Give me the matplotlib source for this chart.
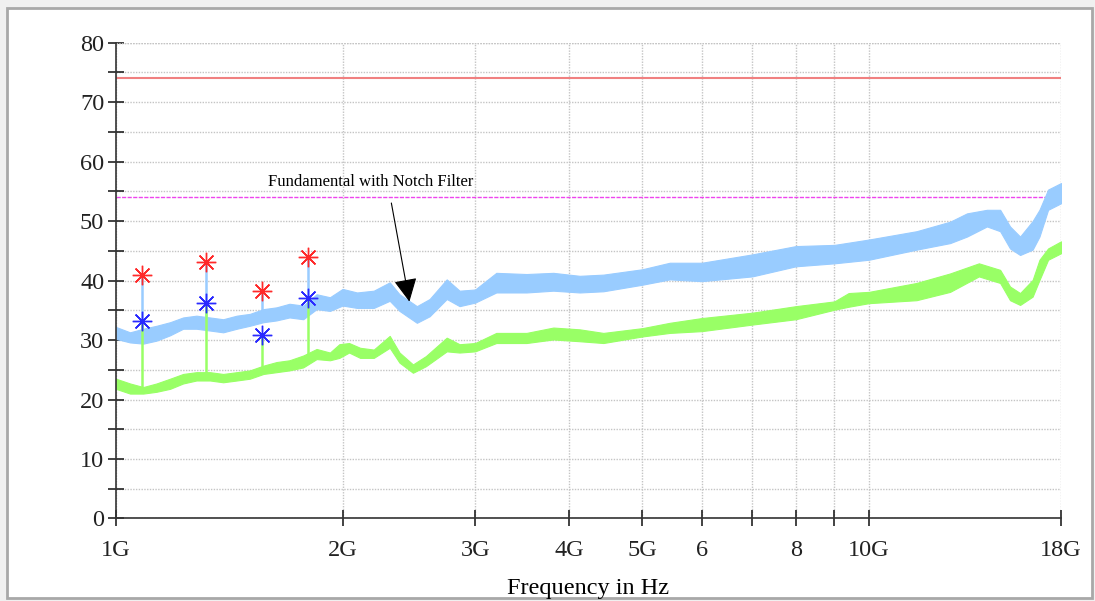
import numpy as np
import matplotlib
matplotlib.use("Agg")
import matplotlib.pyplot as plt
from matplotlib.patches import Rectangle
from matplotlib.ticker import FixedLocator, NullFormatter

# frequency (GHz) and band envelope (low / high)
blue_f = [1.0, 1.044, 1.087, 1.132, 1.18, 1.228, 1.279, 1.333, 1.388, 1.447,
          1.506, 1.57, 1.634, 1.70, 1.773, 1.847, 1.924, 2.0, 2.09, 2.20,
          2.31, 2.38, 2.51, 2.61, 2.75, 2.86, 3.0, 3.2, 3.51, 3.81,
          4.13, 4.44, 5.0, 5.44, 6.0, 7.0, 8.0, 9.0, 10.0, 11.57,
          12.82, 13.5, 14.35, 14.94, 15.4, 15.88, 16.5, 16.85, 17.3, 18.0]
blue_lo = [30.2, 29.6, 29.4, 29.9, 30.8, 31.9, 31.9, 31.6, 31.3, 31.9,
           32.4, 33.0, 33.3, 33.8, 33.5, 35.2, 34.9, 35.8, 35.4, 35.4,
           36.6, 34.9, 32.9, 34.0, 36.9, 35.7, 36.3, 38.0, 38.0, 38.3,
           38.0, 38.2, 39.3, 40.2, 39.9, 40.7, 42.4, 42.9, 43.5, 45.2,
           46.3, 47.4, 49.1, 48.3, 45.4, 44.3, 45.2, 47.4, 51.9, 53.0]
blue_hi = [32.2, 31.3, 31.9, 32.4, 33.0, 33.8, 34.1, 33.8, 33.5, 34.1,
           34.4, 35.2, 35.5, 36.1, 35.8, 37.7, 37.2, 38.6, 38.0, 38.3,
           39.7, 37.7, 35.7, 36.9, 40.2, 38.3, 38.5, 41.3, 41.1, 41.3,
           40.8, 41.0, 41.9, 43.0, 43.0, 44.4, 45.8, 46.0, 46.9, 48.3,
           49.9, 51.3, 51.9, 51.9, 49.1, 47.4, 50.0, 51.9, 55.3, 56.4]

green_f = [1.0, 1.044, 1.087, 1.132, 1.18, 1.228, 1.279, 1.333, 1.388, 1.447,
           1.506, 1.57, 1.634, 1.70, 1.773, 1.847, 1.924, 1.98, 2.04, 2.11,
           2.20, 2.31, 2.38, 2.48, 2.58, 2.75, 2.86, 3.0, 3.2, 3.51,
           3.81, 4.13, 4.44, 5.0, 5.44, 6.0, 7.0, 8.0, 9.0, 9.4,
           10.0, 11.57, 12.82, 14.0, 14.94, 15.4, 15.88, 16.5, 16.85, 17.3, 18.0]
green_lo = [21.8, 21.0, 21.0, 21.3, 21.8, 22.7, 23.2, 23.2, 22.9, 23.2,
            23.5, 24.3, 24.6, 24.9, 25.4, 26.8, 26.6, 27.0, 27.9, 27.0,
            27.0, 28.7, 26.2, 24.5, 25.6, 28.1, 27.9, 28.1, 29.5, 29.5,
            30.1, 29.8, 29.5, 30.6, 31.2, 31.5, 32.6, 33.5, 35.1, 35.6,
            36.2, 36.7, 38.1, 40.7, 39.6, 36.7, 35.9, 37.3, 40.1, 43.5, 44.6]
green_hi = [23.5, 22.7, 22.1, 22.7, 23.5, 24.3, 24.6, 24.6, 24.3, 24.6,
            24.9, 25.7, 26.3, 26.6, 27.4, 28.5, 27.9, 29.3, 29.5, 28.7,
            28.4, 30.7, 27.9, 25.9, 27.3, 30.4, 29.3, 29.5, 31.2, 31.2,
            32.1, 31.8, 31.2, 32.0, 32.9, 33.7, 34.6, 35.7, 36.5, 37.9,
            38.1, 39.6, 41.2, 42.9, 41.8, 39.0, 37.9, 40.1, 43.5, 45.4, 46.6]

# harmonic spurs
spur_f = [1.082, 1.317, 1.564, 1.797]
peak_red = [41.0, 43.1, 38.3, 44.0]
peak_blue = [33.2, 36.2, 30.8, 37.1]
blue_base = [30.0, 32.5, 33.2, 34.5]
green_base = [21.3, 23.8, 24.5, 26.2]

limit_red = 74
limit_purple = 54

tick_f = [1, 2, 3, 4, 5, 6, 7, 8, 9, 10, 18]
tick_lbl = ["1G", "2G", "3G", "4G", "5G", "6", "", "8", "", "10G", "18G"]

plt.rcParams["font.family"] = ["Liberation Serif", "DejaVu Serif"]

fig = plt.figure(figsize=(10.95, 6.01), dpi=100, facecolor="#f0f0f0")
fig.patches.append(Rectangle((0.0064, 0.005), 0.9906, 0.9817, transform=fig.transFigure,
                             facecolor="white", edgecolor="#a8a8a8", lw=2, zorder=-10))
ax = fig.add_axes([0.1059, 0.1373, 0.8631, 0.7917])
ax.set_facecolor("none")

ax.set_xscale("log")
ax.set_xlim(1, 18)
ax.set_ylim(0, 80)

c_blue = "#99ccff"
c_green = "#99ff66"
ax.fill_between(blue_f, blue_lo, blue_hi, color=c_blue, lw=0.8, zorder=3)
ax.fill_between(green_f, green_lo, green_hi, color=c_green, lw=0.8, zorder=3)
ax.vlines(spur_f, blue_base, peak_red, color=c_blue, lw=1.8, zorder=3)
ax.vlines(spur_f, green_base, peak_blue, color=c_green, lw=1.8, zorder=4)

ax.axhline(limit_red, color="#f08080", lw=1.5, zorder=2)
ax.axhline(limit_purple, color="#ee44ee", lw=1, ls=(0, (3, 1)), zorder=2)

ax.plot(spur_f, peak_red, ls="none", marker=(8, 2, 0), ms=14, mew=1, color="#ff2a2a", zorder=5)
ax.plot(spur_f, peak_blue, ls="none", marker=(8, 2, 0), ms=14, mew=1, color="#2a2aff", zorder=5)

ax.text(2.18, 55.3, "Fundamental with Notch Filter", ha="center", va="bottom", fontsize=12)
ax.annotate("", xy=(2.457, 36.0), xytext=(2.318, 53.5),
            arrowprops=dict(arrowstyle="-|>", color="black", lw=0.8, mutation_scale=36), zorder=6)

ax.xaxis.set_major_locator(FixedLocator(tick_f))
ax.set_xticklabels(tick_lbl)
ax.xaxis.set_minor_locator(FixedLocator([]))
ax.xaxis.set_minor_formatter(NullFormatter())
ax.set_yticks(np.arange(0, 81, 10))
ax.set_yticks(np.arange(5, 80, 10), minor=True)

ax.tick_params(axis="both", which="both", direction="inout", length=11, width=1.2,
               colors="#222222", labelsize=17.5)
ax.tick_params(axis="x", pad=10)
ax.tick_params(axis="y", pad=3)

ax.grid(True, which="both", axis="y", color="#c4c4c4", ls=(0, (1, 1)), lw=1)
ax.grid(True, which="major", axis="x", color="#c4c4c4", ls=(0, (1, 1)), lw=1)
ax.axhline(80, color="#c4c4c4", ls=(0, (1, 1)), lw=1)
ax.set_axisbelow(True)

for s in ["top", "right"]:
    ax.spines[s].set_visible(False)
for s in ["left", "bottom"]:
    ax.spines[s].set_color("#333333")
    ax.spines[s].set_linewidth(1.2)
    ax.spines[s].set_zorder(7)

ax.set_xlabel("Frequency in Hz", fontsize=17.5, labelpad=12)

fig.savefig("out.png", dpi=100, facecolor=fig.get_facecolor())
